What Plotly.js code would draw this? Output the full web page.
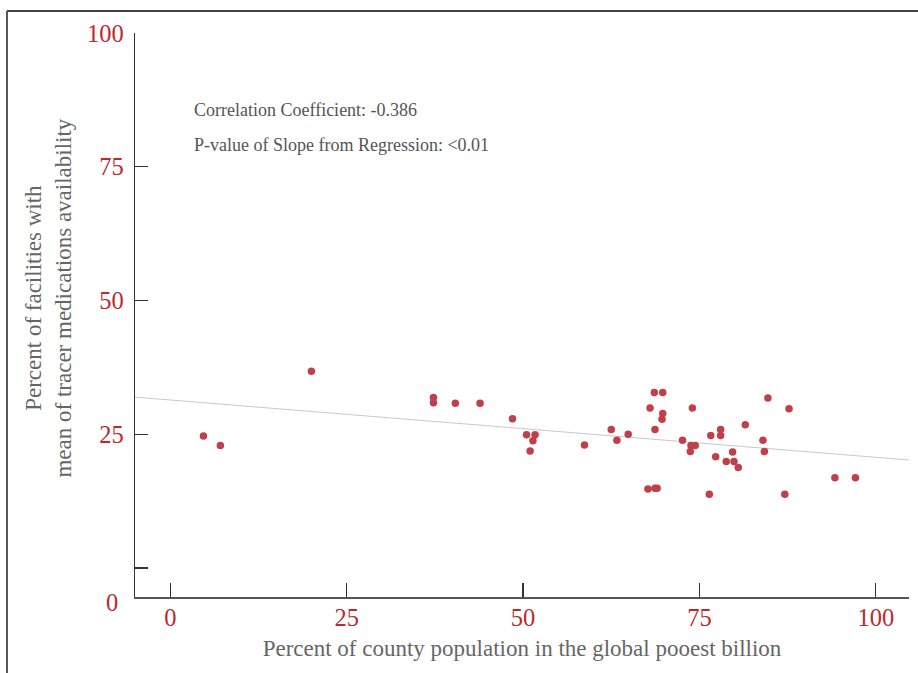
<!DOCTYPE html>
<html>
<head>
<meta charset="utf-8">
<script src="https://cdn.plot.ly/plotly-3.0.1.min.js"></script>
<style>
  html, body { margin: 0; padding: 0; background: #fff; }
  #chart { width: 918px; height: 673px; }
</style>
</head>
<body>
<div id="chart"></div>
<script>
// Percent of county population in the global poorest billion (x)
const popPoorest = [
  4.7, 7.1, 20.0, 37.3, 37.3, 40.4, 43.9, 48.5, 50.5, 51.7, 51.4, 51.0,
  58.7, 62.5, 63.3, 64.9,
  68.6, 69.8, 68.0, 69.8, 69.7, 68.7, 67.7, 68.7, 69.0,
  74.0, 72.6, 73.8, 74.4, 73.7,
  76.6, 78.0, 78.0, 77.3, 76.4,
  78.8, 79.7, 79.9, 80.5, 81.5,
  84.7, 84.0, 84.2, 87.7, 87.1, 94.2, 97.1
];

// Percent of facilities with mean tracer medication availability (y)
const medAvail = [
  24.7, 22.9, 36.8, 31.9, 30.9, 30.8, 30.8, 27.9, 24.9, 24.9, 23.8, 21.9,
  23.0, 25.9, 23.9, 25.0,
  32.8, 32.8, 29.9, 28.9, 27.8, 25.9, 14.8, 14.9, 14.9,
  29.9, 23.9, 22.9, 22.9, 21.8,
  24.8, 25.9, 24.8, 20.8, 13.8,
  19.9, 21.7, 19.9, 18.8, 26.8,
  31.8, 23.9, 21.8, 29.8, 13.8, 16.9, 16.9
];

// Fitted regression line, evaluated at the ends of the x range
const fitX = [-5, 104.7];
const fitY = [31.95, 20.2];

const yTickVals = [0, 25, 50, 75, 100];
const yTickText = ['', '25', '50', '75', '100'];
const xTickVals = [0, 25, 50, 75, 100];

const xTitle = 'Percent of county population in the global pooest billion';
const yTitle = 'Percent of facilities with<br>mean of tracer medications availability';
const statLines = [
  'Correlation Coefficient: -0.386',
  'P-value of Slope from Regression: <0.01'
];

const serif = '"Liberation Serif", "DejaVu Serif", serif';
const red = '#c0282d';
const grey = '#666666';

const traces = [
  {
    x: fitX, y: fitY, type: 'scatter', mode: 'lines',
    line: { color: '#c8c8c8', width: 1 },
    hoverinfo: 'skip', showlegend: false
  },
  {
    x: popPoorest, y: medAvail, type: 'scatter', mode: 'markers',
    marker: { color: '#c0404a', size: 7.5 },
    showlegend: false
  }
];

const layout = {
  width: 918, height: 673,
  margin: { l: 135, r: 9, t: 33, b: 76 },
  paper_bgcolor: '#ffffff', plot_bgcolor: '#ffffff',
  font: { family: serif, color: grey },
  xaxis: {
    range: [-5, 104.7],
    tickvals: xTickVals,
    ticks: 'inside', ticklen: 14, tickwidth: 1.3, tickcolor: '#333',
    showline: true, linecolor: '#555', linewidth: 1.6,
    showgrid: false, zeroline: false,
    tickfont: { family: serif, size: 24.5, color: red },
    ticklabelstandoff: -2,
    title: { text: xTitle, font: { family: serif, size: 23, color: grey }, standoff: 10 }
  },
  yaxis: {
    range: [-5.4, 100],
    tickvals: yTickVals, ticktext: yTickText,
    ticks: 'inside', ticklen: 13, tickwidth: 1.3, tickcolor: '#333',
    showline: true, linecolor: '#333', linewidth: 1.3,
    showgrid: false, zeroline: false,
    tickfont: { family: serif, size: 24.5, color: red },
    ticklabelstandoff: 5
  },
  annotations: [
    // vertical axis title, two lines
    { xref: 'paper', yref: 'paper', x: -0.1118, y: 0.530, xanchor: 'center', yanchor: 'middle',
      textangle: -90, text: yTitle, showarrow: false,
      font: { family: serif, size: 23, color: grey } },
    // label for the bottom of the vertical axis
    { xref: 'paper', yref: 'paper', x: -0.02, y: -0.01, xanchor: 'right', yanchor: 'middle',
      text: '0', showarrow: false, font: { family: serif, size: 24.5, color: red } },
    { xref: 'paper', yref: 'paper', x: 0.074, y: 0.863, xanchor: 'left', yanchor: 'middle',
      text: statLines[0], showarrow: false, font: { family: serif, size: 18, color: '#555' } },
    { xref: 'paper', yref: 'paper', x: 0.074, y: 0.801, xanchor: 'left', yanchor: 'middle',
      text: statLines[1], showarrow: false, font: { family: serif, size: 18, color: '#555' } }
  ],
  shapes: [
    // frame edges along the top and left of the figure
    { type: 'line', xref: 'paper', yref: 'paper', x0: -0.1654, x1: 1.02, y0: 1.039, y1: 1.039,
      line: { color: '#444', width: 2 } },
    { type: 'line', xref: 'paper', yref: 'paper', x0: -0.1654, x1: -0.1654, y0: 1.039, y1: -0.15,
      line: { color: '#555', width: 2 } }
  ]
};

Plotly.newPlot('chart', traces, layout, { displayModeBar: false, staticPlot: true });
</script>
</body>
</html>
